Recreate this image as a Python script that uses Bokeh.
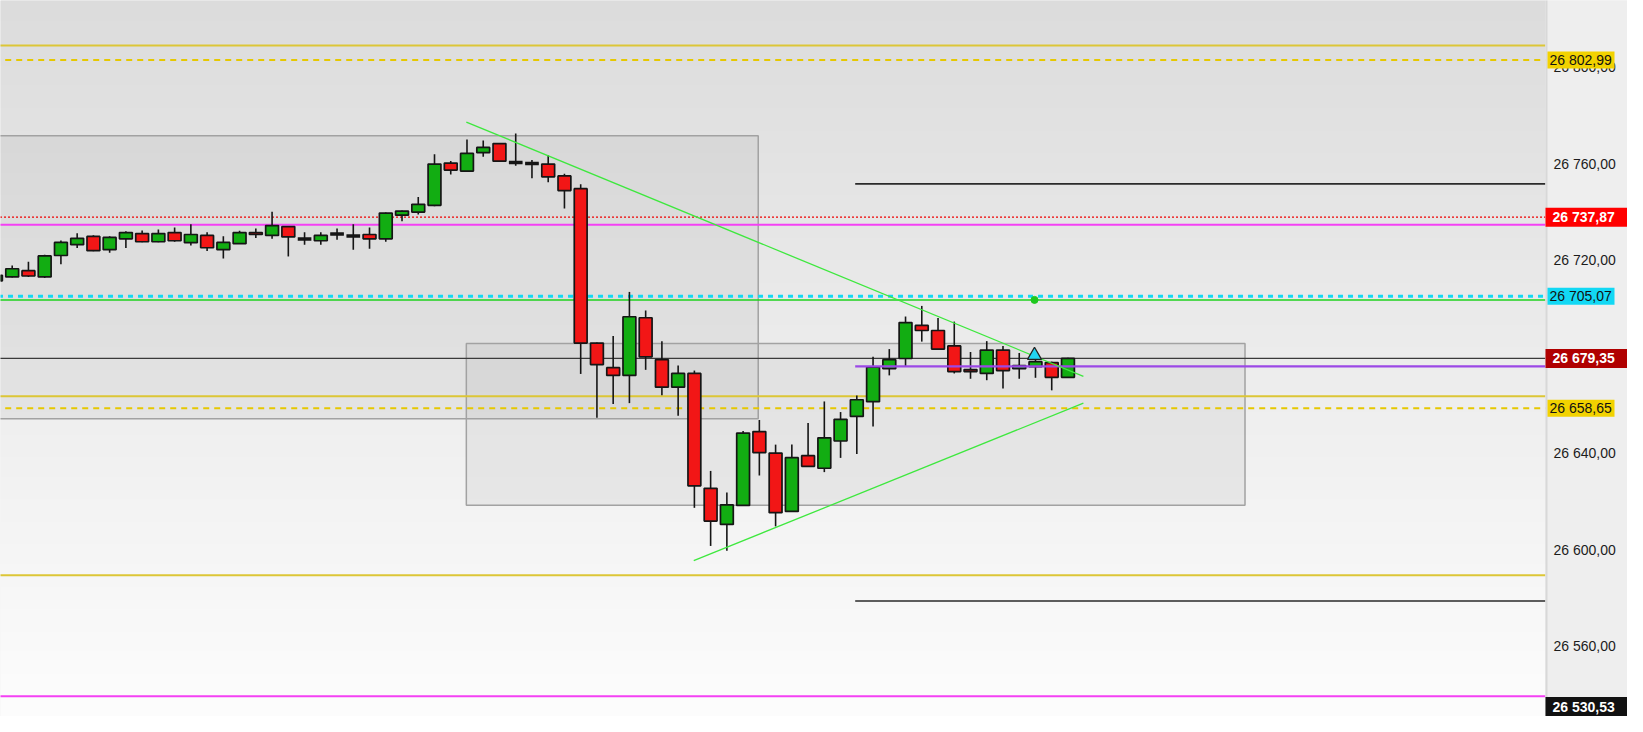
import numpy as np
from bokeh.plotting import figure
from bokeh.models import Range1d
from bokeh.core.properties import value
from bokeh.embed import file_html
from bokeh.resources import INLINE

# ---------------- data ----------------
opens = [26711.5, 26713.1, 26715.7, 26713.1, 26722.0, 26726.5, 26729.9, 26724.4, 26728.9, 26731.1,
         26727.7, 26731.5, 26727.3, 26730.3, 26724.4, 26726.9, 26731.5, 26730.3, 26734.0, 26728.8,
         26728.1, 26730.9, 26730.1, 26730.7, 26728.9, 26738.7, 26740.0, 26742.8, 26760.3, 26757.0,
         26764.6, 26768.4, 26760.5, 26760.1, 26759.9, 26755.0, 26749.7, 26685.7, 26675.5, 26672.3,
         26696.2, 26678.8, 26667.4, 26673.1, 26625.5, 26610.5, 26618.4, 26649.0, 26640.1, 26615.9,
         26639.0, 26633.8, 26645.1, 26655.3, 26661.4, 26675.1, 26679.3, 26693.0, 26690.9, 26684.5,
         26674.7, 26673.1, 26682.8, 26675.1, 26675.9, 26677.6, 26671.5]
highs = [26714.6, 26717.8, 26719.4, 26722.3, 26728.2, 26731.2, 26730.4, 26730.0, 26732.0, 26732.4,
         26732.8, 26733.6, 26734.9, 26731.6, 26730.0, 26732.3, 26733.2, 26740.1, 26734.2, 26731.6,
         26731.6, 26733.2, 26734.9, 26733.6, 26739.8, 26740.6, 26746.2, 26764.0, 26761.2, 26770.1,
         26769.7, 26768.6, 26772.6, 26761.6, 26763.6, 26755.9, 26751.5, 26685.9, 26688.6, 26706.9,
         26699.2, 26686.5, 26676.4, 26674.3, 26632.7, 26623.8, 26649.2, 26653.8, 26643.6, 26643.6,
         26652.6, 26661.5, 26657.1, 26664.0, 26680.0, 26683.2, 26696.7, 26701.1, 26696.1, 26694.6,
         26682.0, 26686.5, 26684.5, 26681.6, 26679.5, 26678.0, 26679.6]
lows = [26710.9, 26712.9, 26713.1, 26712.7, 26718.4, 26725.1, 26723.8, 26723.1, 26725.1, 26727.5,
        26727.5, 26727.7, 26726.1, 26723.9, 26720.8, 26726.8, 26729.3, 26728.9, 26721.6, 26726.5,
        26726.5, 26728.5, 26724.4, 26724.8, 26727.7, 26736.2, 26739.0, 26742.4, 26755.6, 26756.8,
        26762.9, 26760.9, 26759.2, 26754.0, 26752.4, 26741.5, 26672.9, 26654.7, 26660.4, 26660.8,
        26674.6, 26664.1, 26655.6, 26617.4, 26601.6, 26599.6, 26618.2, 26630.8, 26609.7, 26615.7,
        26634.4, 26632.2, 26638.1, 26639.7, 26651.1, 26672.3, 26675.9, 26686.3, 26682.8, 26673.1,
        26670.9, 26670.3, 26666.9, 26670.9, 26671.3, 26666.1, 26671.3]
closes = [26713.8, 26716.5, 26713.5, 26721.8, 26727.4, 26729.1, 26724.0, 26729.5, 26731.5, 26727.7,
          26731.1, 26728.1, 26730.7, 26725.2, 26727.4, 26731.5, 26730.7, 26734.4, 26729.7, 26728.8,
          26730.3, 26730.9, 26730.1, 26728.9, 26739.6, 26740.4, 26743.2, 26759.9, 26757.4, 26764.3,
          26766.8, 26761.1, 26760.5, 26760.1, 26754.6, 26748.9, 26685.7, 26676.8, 26672.3, 26696.6,
          26680.0, 26667.4, 26673.1, 26626.5, 26611.9, 26618.6, 26648.4, 26640.3, 26615.4, 26638.2,
          26634.6, 26646.4, 26654.1, 26662.2, 26675.7, 26678.8, 26694.2, 26690.9, 26683.2, 26673.9,
          26673.9, 26682.8, 26674.3, 26676.4, 26678.0, 26671.5, 26679.35]

# horizontal levels
yellow_solid_levels = [26809.0, 26663.7, 26589.4]
yellow_dashed_levels = [26802.99, 26658.65]
red_dotted_level = 26737.87
magenta_levels = [26734.7, 26539.3]
cyan_dashed_level = 26705.07
green_level = 26703.6
last_price = 26679.35
purple_level = 26676.0
black_short_levels = [26751.7, 26578.8]
short_lines_start = 52.9
bottom_tag_price = 26530.53

# zones (index start, index end, price bottom, price top)
zone_upper = (-2.0, 46.93, 26654.3, 26771.6)
zone_lower = (28.96, 76.9, 26618.5, 26685.5)

# trend lines
desc_x = [28.96, 66.95]
desc_y = [26777.3, 26671.9]
asc_x = [42.96, 66.95]
asc_y = [26595.5, 26660.8]

signal_dot = (63.94, 26703.6)
signal_arrow = (63.94, 26680.6)

y_ticks = [26560, 26600, 26640, 26720, 26760, 26800]

# ---------------- figure ----------------
W, Hpx = 1627, 716
PLOT_W = 1545                      # chart area, the rest is the price scale
X0, XA = 0.28, 95.40               # visible index range of the chart area
DXPX = (XA - X0) / PLOT_W          # index units per pixel
XE = X0 + W * DXPX
Y0, Y1 = 26530.9, 26827.7
DYPX = (Y1 - Y0) / Hpx             # price units per pixel

p = figure(width=W, height=Hpx, output_backend="svg", toolbar_location=None,
           x_range=Range1d(X0, XE), y_range=Range1d(Y0, Y1),
           x_axis_location=None, y_axis_location=None,
           min_border_left=0, min_border_top=0, min_border_bottom=0, min_border_right=0)
p.xgrid.visible = False
p.ygrid.visible = False
p.outline_line_color = None
p.border_fill_color = "#eeeeee"
p.background_fill_color = "#eeeeee"

# gradient background of the chart area
NB = 256
img = np.empty((NB, 1), dtype=np.uint32)
view = img.view(dtype=np.uint8).reshape((NB, 1, 4))
g = np.linspace(253, 220, NB).astype(np.uint8)
view[:, 0, 0] = g
view[:, 0, 1] = g
view[:, 0, 2] = g
view[:, 0, 3] = 255
p.image_rgba(image=[img], x=X0 - 1, y=Y0 - 1, dw=(XA - X0) + 1, dh=(Y1 - Y0) + 2)

# zones
for (xa, xb, yb, yt) in (zone_upper, zone_lower):
    p.quad(left=[xa], right=[xb], bottom=[yb], top=[yt], fill_color="#9a9a9a", fill_alpha=0.13,
           line_color="#a2a2a2", line_width=1.5)

# horizontal lines
for lv in yellow_solid_levels:
    p.segment(x0=[X0 - 2], x1=[XA], y0=[lv], y1=[lv], line_color="#dcc636", line_width=2)
for lv in yellow_dashed_levels:
    p.segment(x0=[0.57], x1=[XA], y0=[lv], y1=[lv], line_color="#e6c800", line_width=2, line_dash="6 5")
p.segment(x0=[X0 - 2], x1=[XA], y0=[red_dotted_level], y1=[red_dotted_level], line_color="#f00000",
          line_width=1.2, line_dash="2 2")
for lv in magenta_levels:
    p.segment(x0=[X0 - 2], x1=[XA], y0=[lv], y1=[lv], line_color="#f440f4", line_width=2)
p.segment(x0=[X0 - 2], x1=[XA], y0=[green_level], y1=[green_level], line_color="#1ed21e", line_width=1.5)
p.segment(x0=[X0 - 2], x1=[XA], y0=[cyan_dashed_level], y1=[cyan_dashed_level], line_color="#12d8f4",
          line_width=3, line_dash="5 5")
p.segment(x0=[X0 - 2], x1=[XA], y0=[last_price], y1=[last_price], line_color="#3a3a3a", line_width=1.2)
for lv in black_short_levels:
    p.segment(x0=[short_lines_start], x1=[XA], y0=[lv], y1=[lv], line_color="#2a2a2a", line_width=1.6)

# candles
n = len(opens)
xs = list(range(n))
body_top = [max(o, c) for o, c in zip(opens, closes)]
body_bot = [min(o, c) for o, c in zip(opens, closes)]
colors = ["#12ad12" if c >= o else "#f21616" for o, c in zip(opens, closes)]
p.segment(x0=xs, x1=xs, y0=lows, y1=highs, line_color="#151515", line_width=1.6)
p.vbar(x=xs, width=0.79, top=body_top, bottom=body_bot, fill_color=colors,
       line_color="#151515", line_width=1.7)
doji_x = [i for i in xs if abs(opens[i] - closes[i]) < 0.05]
doji_y = [opens[i] for i in doji_x]
p.segment(x0=[x - 0.42 for x in doji_x], x1=[x + 0.42 for x in doji_x], y0=doji_y, y1=doji_y,
          line_color="#151515", line_width=3.5)

p.segment(x0=[short_lines_start], x1=[XA], y0=[purple_level], y1=[purple_level], line_color="#9b48e6",
          line_width=2.2)

# trend lines
p.line(desc_x, desc_y, line_color="#3ee83e", line_width=1.3)
p.line(asc_x, asc_y, line_color="#3ee83e", line_width=1.3)

# signals
p.scatter([signal_dot[0]], [signal_dot[1]], size=7, fill_color="#1ec81e", line_color="#1ec81e")
p.scatter([signal_arrow[0]], [signal_arrow[1]], marker="triangle", size=14, fill_color="#22d4f2",
          line_color="#222222", line_width=1.3)

# ---------------- price scale ----------------
p.quad(left=[XA], right=[XE + 1], bottom=[Y0 - 5], top=[Y1 + 5], fill_color="#eeeeee", line_color=None)
p.segment(x0=[XA + DXPX], x1=[XA + DXPX], y0=[Y0 - 5], y1=[Y1 + 5], line_color="#d8d8d8", line_width=2)


def fmt(v):
    return f"{v:,.2f}".replace(",", " ").replace(".", ",")


p.text(x=[XA] * len(y_ticks), y=y_ticks, text=[fmt(t) for t in y_ticks], x_offset=8,
       text_align="left", text_baseline="middle", text_font=value("Liberation Sans"),
       text_font_size="14px", text_color="#1c1c1c")


def tag(price, bg, fg, bold, full):
    # keep the tag box inside the canvas
    ypos = max(price, Y0 + 10 * DYPX)
    if full:
        cx = XA + 42 * DXPX
        p.rect(x=[cx], y=[ypos], width=84, height=19, width_units="screen", height_units="screen",
               fill_color=bg, line_color=None)
        p.text(x=[XA], y=[ypos], text=[fmt(price)], x_offset=7, text_align="left", text_baseline="middle",
               text_font=value("Liberation Sans"), text_font_size="14px", text_font_style="bold",
               text_color=fg)
    else:
        cx = XA + 35.5 * DXPX
        p.rect(x=[cx], y=[ypos], width=67, height=17, width_units="screen", height_units="screen",
               fill_color=bg, line_color=None)
        p.text(x=[XA], y=[ypos], text=[fmt(price)], x_offset=4, text_align="left", text_baseline="middle",
               text_font=value("Liberation Sans"), text_font_size="14px", text_color=fg)


tag(yellow_dashed_levels[0], "#f2d200", "#111111", False, False)
tag(red_dotted_level, "#ff0000", "#ffffff", True, True)
tag(cyan_dashed_level, "#12d8f4", "#111111", False, False)
tag(last_price, "#b00000", "#ffffff", True, True)
tag(yellow_dashed_levels[1], "#f2d200", "#111111", False, False)
tag(bottom_tag_price, "#111111", "#ffffff", True, True)

open("out.html", "w").write(file_html(p, INLINE))
